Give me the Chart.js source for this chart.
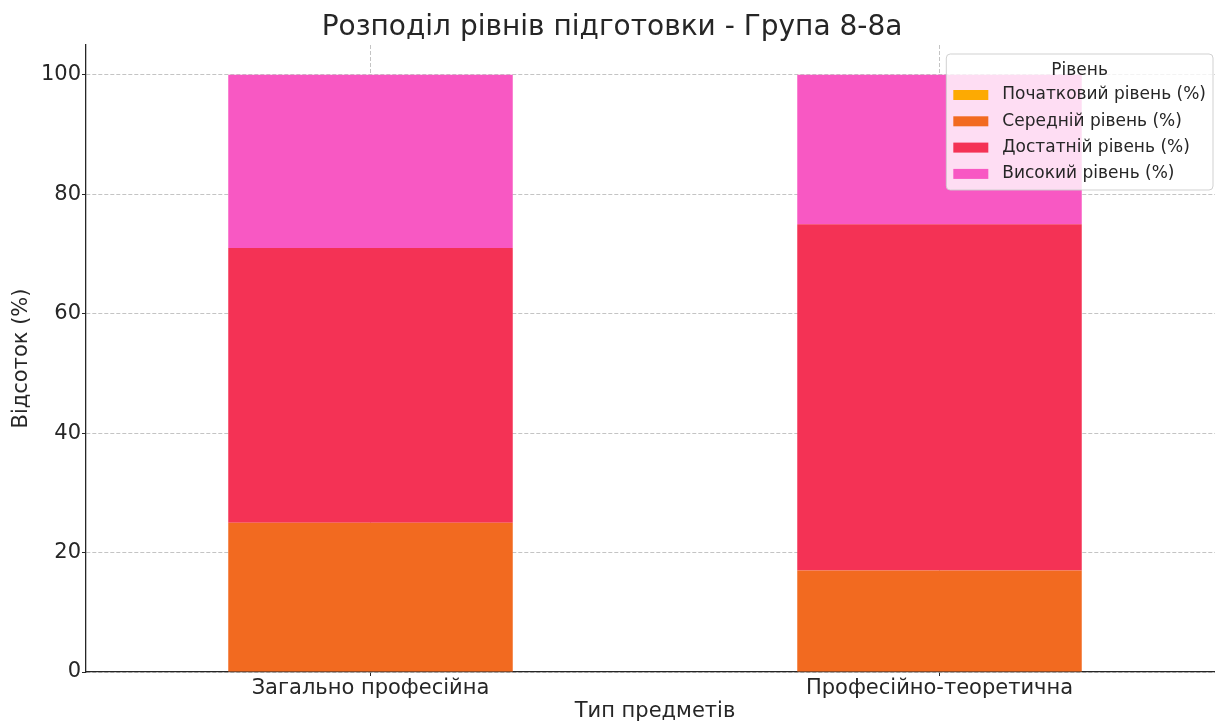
<!DOCTYPE html>
<html>
<head>
<meta charset="utf-8">
<script src="https://cdn.jsdelivr.net/npm/chart.js@4"></script>
<style>
  html, body { margin: 0; padding: 0; background: #fff; overflow: hidden; }
  canvas { display: block; }
</style>
</head>
<body>
<canvas id="myChart" width="1310" height="724"></canvas>
<script>
// Categories (subject types)
const categories = ['Загально професійна', 'Професійно-теоретична'];

// Level names and percentages per category
const levelNames = ['Початковий рівень (%)', 'Середній рівень (%)', 'Достатній рівень (%)', 'Високий рівень (%)'];
const initialLevel = [0, 0];
const middleLevel = [25, 17];
const sufficientLevel = [46, 58];
const highLevel = [29, 25];

// Y axis ticks
const yTicks = [0, 20, 40, 60, 80, 100];

const levelColors = ['#fdaa02', '#f26a20', '#f43255', '#f858c3'];
const textColor = '#262626';
const fontFamily = '"DejaVu Sans", sans-serif';

// Legend drawn on top of the bars, with a semi-transparent frame
const frameLegend = {
    id: 'frameLegend',
    afterDraw(chart) {
        const ctx = chart.ctx;
        const area = chart.chartArea;
        const fontSize = 17;
        const rowH = 26.3;
        ctx.save();
        ctx.font = fontSize + 'px ' + fontFamily;
        let textW = 0;
        chart.data.datasets.forEach(ds => { textW = Math.max(textW, ctx.measureText(ds.label).width); });
        const right = area.right - 11;
        const top = area.top + 9;
        const width = 7 + 35 + 14 + textW + 7;
        const left = right - width;
        const height = 136;

        // frame
        ctx.beginPath();
        ctx.roundRect(left, top, width, height, 4);
        ctx.fillStyle = 'rgba(255,255,255,0.8)';
        ctx.fill();
        ctx.strokeStyle = 'rgba(204,204,204,0.9)';
        ctx.lineWidth = 1;
        ctx.stroke();

        // title
        ctx.fillStyle = textColor;
        ctx.textAlign = 'center';
        ctx.textBaseline = 'middle';
        ctx.fillText('Рівень', left + width / 2, top + 17);

        // entries
        ctx.textAlign = 'left';
        chart.data.datasets.forEach((ds, i) => {
            const cy = top + 41 + i * rowH;
            ctx.fillStyle = ds.backgroundColor;
            ctx.fillRect(left + 7, cy - 5, 35, 10);
            ctx.fillStyle = textColor;
            ctx.fillText(ds.label, left + 7 + 35 + 14, cy);
        });
        ctx.restore();
    }
};

const ctx = document.getElementById('myChart').getContext('2d');

const chart = new Chart(ctx, {
    type: 'bar',
    data: {
        labels: categories,
        datasets: [
            { label: levelNames[0], data: initialLevel, backgroundColor: levelColors[0] },
            { label: levelNames[1], data: middleLevel, backgroundColor: levelColors[1] },
            { label: levelNames[2], data: sufficientLevel, backgroundColor: levelColors[2] },
            { label: levelNames[3], data: highLevel, backgroundColor: levelColors[3] }
        ]
    },
    options: {
        responsive: false,
        animation: false,
        devicePixelRatio: 1,
        layout: { padding: { left: 0, right: 86, top: 0, bottom: 0 } },
        datasets: {
            bar: { categoryPercentage: 1.0, barPercentage: 0.5, borderWidth: 0 }
        },
        plugins: {
            legend: { display: false },
            tooltip: { enabled: false },
            title: {
                display: true,
                text: 'Розподіл рівнів підготовки - Група 8-8а',
                color: textColor,
                font: { family: fontFamily, size: 28, weight: 'normal' },
                padding: { top: 11, bottom: 0.4 }
            }
        },
        scales: {
            x: {
                stacked: true,
                z: 1,
                grid: {
                    offset: false,
                    color: 'rgba(176,176,176,0.75)',
                    lineWidth: 1,
                    tickColor: '#262626',
                    tickLength: 4
                },
                border: { display: true, color: '#262626', width: 1.3, dash: [4, 2] },
                ticks: {
                    color: textColor,
                    font: { family: fontFamily, size: 21 },
                    padding: 0,
                    maxRotation: 0
                },
                title: {
                    display: true,
                    text: 'Тип предметів',
                    color: textColor,
                    font: { family: fontFamily, size: 21 },
                    padding: { top: 0, bottom: 0 }
                },
                afterFit(s) { s.height = 52; }
            },
            y: {
                stacked: true,
                z: 1,
                min: 0,
                max: 105,
                grid: {
                    color: 'rgba(176,176,176,0.75)',
                    lineWidth: 1,
                    tickColor: '#262626',
                    tickLength: 4
                },
                border: { display: true, color: '#262626', width: 1.3, dash: [4, 2] },
                ticks: {
                    color: textColor,
                    font: { family: fontFamily, size: 21 },
                    padding: 1,
                    stepSize: 20,
                    includeBounds: false
                },
                afterBuildTicks(s) { s.ticks = yTicks.map(v => ({ value: v })); },
                title: {
                    display: true,
                    text: 'Відсоток (%)',
                    color: textColor,
                    font: { family: fontFamily, size: 21 },
                    padding: { top: 9, bottom: 0 }
                },
                afterFit(s) { s.width = 86; }
            }
        }
    },
    plugins: [frameLegend]
});
</script>
</body>
</html>
